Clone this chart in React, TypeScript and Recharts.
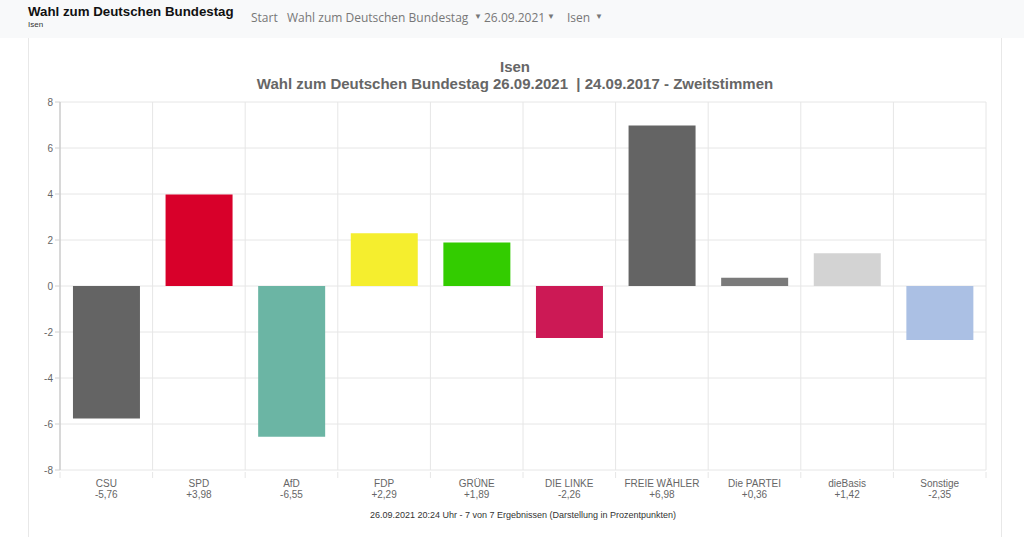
import { Bar, BarChart, CartesianGrid, Cell, XAxis, YAxis } from "recharts"

const parties = ["CSU", "SPD", "AfD", "FDP", "GRÜNE", "DIE LINKE", "FREIE WÄHLER", "Die PARTEI", "dieBasis", "Sonstige"]
const diffs = [-5.76, 3.98, -6.55, 2.29, 1.89, -2.26, 6.98, 0.36, 1.42, -2.35]
const colors = ["#646464", "#d8002a", "#6bb5a4", "#f5ee2e", "#33cc00", "#cc1955", "#646464", "#7a7a7a", "#d3d3d3", "#abc0e4"]
const yTicks = [-8, -6, -4, -2, 0, 2, 4, 6, 8]
const navItems = [
  { text: "Start", x: 251, caret: null },
  { text: "Wahl zum Deutschen Bundestag", x: 287, caret: 474 },
  { text: "26.09.2021", x: 484, caret: 547 },
  { text: "Isen", x: 567, caret: 595 },
]

const CHART_W = 1024
const CHART_H = 537
const MARGIN = { top: 102, right: 38, bottom: 27, left: 0 }
const Y_WIDTH = 60
const PLOT_W = CHART_W - MARGIN.left - MARGIN.right - Y_WIDTH
const STEP = PLOT_W / parties.length

const fmt = (v: number) => (v > 0 ? "+" : "") + v.toFixed(2).replace(".", ",")

const data = parties.map((name, i) => ({ name, value: diffs[i], label: fmt(diffs[i]) }))

const font = "'Liberation Sans', Arial, sans-serif"

function PartyTick(props: any) {
  const { x, y, payload, index } = props
  const left = x - STEP / 2
  return (
    <g>
      <line x1={left} x2={left} y1={y - 6} y2={y} stroke="#e6e6e6" />
      {index === parties.length - 1 && (
        <line x1={left + STEP} x2={left + STEP} y1={y - 6} y2={y} stroke="#e6e6e6" />
      )}
      <text x={x} y={y + 9} textAnchor="middle" fontSize={10} fill="#666" fontFamily={font}>
        {payload.value}
      </text>
      <text x={x} y={y + 20} textAnchor="middle" fontSize={10} fill="#666" fontFamily={font}>
        {data[index].label}
      </text>
    </g>
  )
}

export default function App() {
  // grid lines sit between categories, like chart.js
  const boundaries = ({ offset }: any) =>
    Array.from({ length: parties.length + 1 }, (_, i) => offset.left + (i * offset.width) / parties.length)

  return (
    <div style={{ position: "absolute", left: 0, top: 0, width: CHART_W, height: CHART_H, background: "#fff", overflow: "hidden" }}>
      <div style={{ position: "absolute", left: 0, top: 0, width: CHART_W, height: 38, background: "#f8f9fa" }} />
      <div style={{ position: "absolute", left: 28, top: 3, fontFamily: font, fontWeight: 700, fontSize: 13.3, color: "#111", lineHeight: "17px" }}>
        Wahl zum Deutschen Bundestag
      </div>
      <div style={{ position: "absolute", left: 28, top: 20, fontFamily: font, fontSize: 8, color: "#333", lineHeight: "10px" }}>
        Isen
      </div>
      {navItems.map((n) => (
        <div key={n.text}>
          <div style={{ position: "absolute", left: n.x, top: 9, fontFamily: "'Open Sans', sans-serif", fontSize: 12, color: "#777", whiteSpace: "pre" }}>
            {n.text}
          </div>
          {n.caret !== null && (
            <div style={{ position: "absolute", left: n.caret, top: 12, fontFamily: font, fontSize: 8, color: "#777" }}>▼</div>
          )}
        </div>
      ))}
      <div style={{ position: "absolute", left: 28, top: 38, width: 972, height: 520, borderLeft: "1px solid #e8e8e8", borderRight: "1px solid #e8e8e8" }} />
      <div style={{ position: "absolute", left: 30, width: 970, top: 58, textAlign: "center", fontFamily: font, fontWeight: 700, fontSize: 15, color: "#666", lineHeight: "17px" }}>
        <div>Isen</div>
        <div style={{ whiteSpace: "pre" }}>{"Wahl zum Deutschen Bundestag 26.09.2021  | 24.09.2017 - Zweitstimmen"}</div>
      </div>
      <div style={{ position: "absolute", left: 60, width: PLOT_W, top: 510, textAlign: "center", fontFamily: font, fontSize: 9, color: "#333" }}>
        26.09.2021 20:24 Uhr - 7 von 7 Ergebnissen (Darstellung in Prozentpunkten)
      </div>
      <div style={{ position: "absolute", left: 0, top: 0 }}>
        <BarChart width={CHART_W} height={CHART_H} data={data} margin={MARGIN} barCategoryGap="14%">
          <CartesianGrid stroke="#e6e6e6" verticalCoordinatesGenerator={boundaries} />
          <XAxis
            dataKey="name"
            axisLine={false}
            tickLine={false}
            interval={0}
            height={40}
            tick={<PartyTick />}
          />
          <YAxis
            width={Y_WIDTH}
            domain={[-8, 8]}
            ticks={yTicks}
            interval={0}
            axisLine={{ stroke: "#bdbdbd" }}
            tickLine={{ stroke: "#d0d0d0" }}
            tickSize={5}
            tick={{ fontSize: 10, fill: "#666", fontFamily: font }}
          />
          <Bar dataKey="value" isAnimationActive={false}>
            {data.map((d, i) => (
              <Cell key={d.name} fill={colors[i]} />
            ))}
          </Bar>
        </BarChart>
      </div>
    </div>
  )
}
